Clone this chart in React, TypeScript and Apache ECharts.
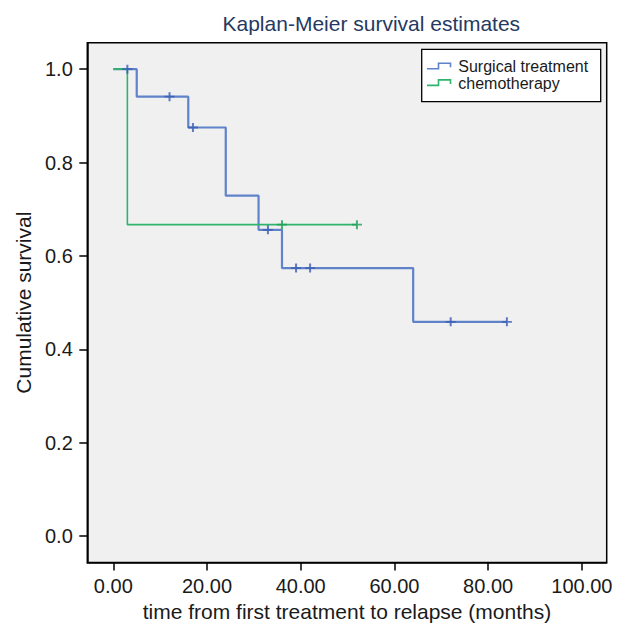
import React, { useEffect, useRef } from "react";
import * as echarts from "echarts";

const chartTitle = "Kaplan-Meier survival estimates";
const xAxisName = "time from first treatment to relapse (months)";
const yAxisName = "Cumulative survival";
const seriesNames = ["Surgical treatment", "chemotherapy"];
const seriesColors = ["#5f82c8", "#2fb46c"];
const censorColors = ["#3a5cb4", "#1f9f55"];

const xTicks = [0, 20, 40, 60, 80, 100];
const yTicks = [0, 0.2, 0.4, 0.6, 0.8, 1.0];

// Surgical treatment: event times and survival after each event
const surgTime = [0, 5, 16, 24, 31, 36, 64, 84];
const surgSurv = [1.0, 0.941, 0.875, 0.729, 0.656, 0.574, 0.459, 0.459];
const surgCensTime = [3, 12, 17, 33, 39, 42, 72, 84];
const surgCensSurv = [1.0, 0.941, 0.875, 0.656, 0.574, 0.574, 0.459, 0.459];

// Chemotherapy
const chemoTime = [0, 3, 52];
const chemoSurv = [1.0, 0.667, 0.667];
const chemoCensTime = [36, 52];
const chemoCensSurv = [0.667, 0.667];

const FONT = "'Liberation Sans', Arial, Helvetica, sans-serif";
const PLUS = "path://M4,0H6V4H10V6H6V10H4V6H0V4H4Z";

function stepPoints(t: number[], s: number[]) {
  const pts: number[][] = [[t[0], s[0]]];
  for (let i = 1; i < t.length; i++) {
    pts.push([t[i], s[i - 1]]);
    pts.push([t[i], s[i]]);
  }
  return pts;
}

function zip(a: number[], b: number[]) {
  return a.map((v, i) => [v, b[i]]);
}

export default function App() {
  const ref = useRef<HTMLDivElement>(null);

  useEffect(() => {
    document.body.style.margin = "0";
    if (!ref.current) return;
    const chart = echarts.init(ref.current, null, { renderer: "svg" });

    const legendX = 421.7;
    const legendY = 49.3;
    const rowY = [66.7, 83.4];

    const legendGraphics: any[] = [
      {
        type: "rect",
        shape: { x: legendX, y: legendY, width: 179, height: 52.4 },
        style: { fill: "#ffffff", stroke: "#000000", lineWidth: 1.3 },
        z: 100,
      },
    ];
    seriesNames.forEach((name, i) => {
      const cy = rowY[i];
      legendGraphics.push({
        type: "polyline",
        shape: {
          points: [
            [427, cy + 2],
            [438.5, cy + 2],
            [438.5, cy - 3.5],
            [450.5, cy - 3.5],
            [450.5, cy + 0.5],
          ],
        },
        style: { stroke: seriesColors[i], lineWidth: 1.6, fill: "none" },
        z: 101,
      });
      legendGraphics.push({
        type: "text",
        x: 458.3,
        y: cy,
        style: {
          text: name,
          fill: "#1a1a1a",
          font: `16px ${FONT}`,
          verticalAlign: "middle",
          align: "left",
        },
        z: 101,
      });
    });

    chart.setOption({
      animation: false,
      backgroundColor: "#ffffff",
      title: {
        text: chartTitle,
        left: 366.3,
        top: 8,
        textAlign: "center",
        textStyle: {
          fontSize: 21,
          fontWeight: "normal",
          color: "#26395f",
          fontFamily: FONT,
        },
      },
      grid: {
        left: 87.3,
        right: 18.3,
        top: 42.7,
        bottom: 60,
        show: true,
        backgroundColor: "#f0f0f0",
        borderColor: "#000000",
        borderWidth: 1.5,
        containLabel: false,
      },
      xAxis: {
        type: "value",
        min: -5.55,
        max: 105.3,
        axisLine: { show: true, onZero: false, lineStyle: { color: "#000", width: 1.5 } },
        axisTick: { show: true, customValues: xTicks, length: 8, lineStyle: { color: "#000", width: 1.5 } },
        axisLabel: {
          customValues: xTicks,
          formatter: (v: number) => v.toFixed(2),
          fontSize: 20,
          color: "#1a1a1a",
          fontFamily: FONT,
          margin: 13.5,
        },
        splitLine: { show: false },
        name: xAxisName,
        nameLocation: "middle",
        nameGap: 36.5,
        nameTextStyle: { fontSize: 21, color: "#1a1a1a", fontFamily: FONT },
      },
      yAxis: {
        type: "value",
        min: -0.0566,
        max: 1.0566,
        axisLine: { show: true, onZero: false, lineStyle: { color: "#000", width: 1.5 } },
        axisTick: { show: true, customValues: yTicks, length: 8, lineStyle: { color: "#000", width: 1.5 } },
        axisLabel: {
          customValues: yTicks,
          formatter: (v: number) => v.toFixed(1),
          fontSize: 20,
          color: "#1a1a1a",
          fontFamily: FONT,
          margin: 14.5,
        },
        splitLine: { show: false },
        name: yAxisName,
        nameLocation: "middle",
        nameGap: 51,
        nameTextStyle: { fontSize: 21, color: "#1a1a1a", fontFamily: FONT },
      },
      series: [
        {
          name: seriesNames[0],
          type: "line",
          data: stepPoints(surgTime, surgSurv),
          symbol: "none",
          lineStyle: { color: seriesColors[0], width: 2.2 },
          z: 2,
        },
        {
          name: seriesNames[1],
          type: "line",
          data: stepPoints(chemoTime, chemoSurv),
          symbol: "none",
          lineStyle: { color: seriesColors[1], width: 1.6 },
          z: 3,
        },
        {
          name: seriesNames[0] + " censored",
          type: "scatter",
          data: zip(surgCensTime, surgCensSurv),
          symbol: PLUS,
          symbolSize: [10, 9],
          itemStyle: { color: censorColors[0] },
          z: 4,
        },
        {
          name: seriesNames[1] + " censored",
          type: "scatter",
          data: zip(chemoCensTime, chemoCensSurv),
          symbol: PLUS,
          symbolSize: [10, 9],
          itemStyle: { color: censorColors[1] },
          z: 5,
        },
      ],
      graphic: legendGraphics,
    });

    return () => chart.dispose();
  }, []);

  return <div ref={ref} style={{ width: 625, height: 627 }} />;
}
